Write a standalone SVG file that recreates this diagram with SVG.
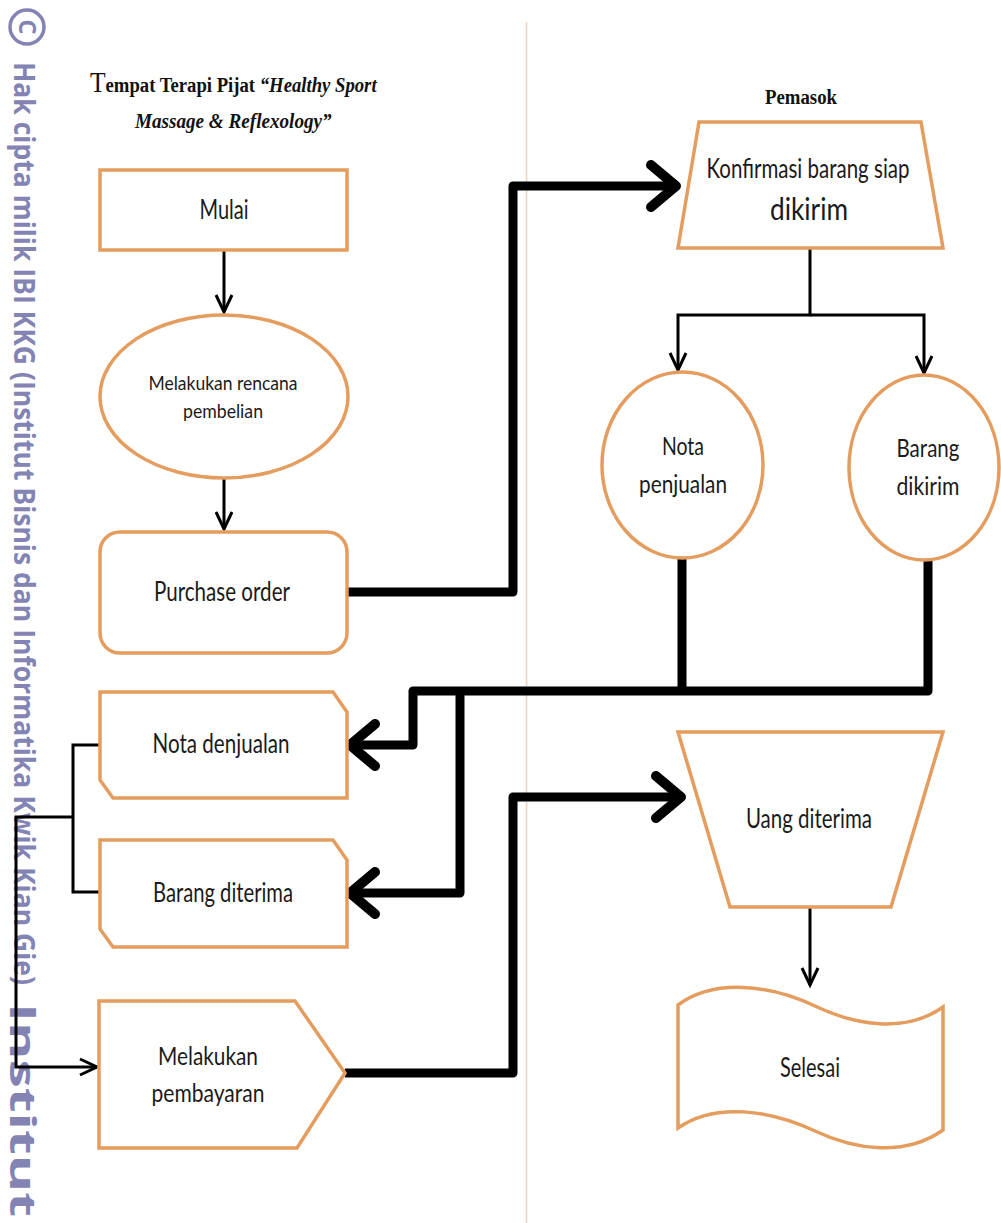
<svg xmlns="http://www.w3.org/2000/svg" width="1001" height="1223" viewBox="0 0 1001 1223">
<style>
.shape{fill:#fff;stroke:#e49d5e;stroke-width:3.5}
.lbl{font-family:Lato,"Open Sans","Liberation Sans",sans-serif;fill:#1a1a1a;text-anchor:middle}
.thin{fill:none;stroke:#000;stroke-width:3;stroke-linejoin:miter}
.thick{fill:none;stroke:#000;stroke-width:9;stroke-linejoin:round}
.wm{font-family:"Open Sans","Noto Sans",sans-serif;fill:#8383b4;font-weight:bold}
.hdr{font-family:"Liberation Serif",serif;fill:#111;font-weight:bold}
</style>
<defs>
<marker id="thinArrow" markerUnits="userSpaceOnUse" markerWidth="22" markerHeight="22" refX="18" refY="10" orient="auto" overflow="visible">
<path d="M1,2 L18,10 L1,18" fill="none" stroke="#000" stroke-width="3" stroke-linejoin="miter"/>
</marker>
<marker id="thickArrow" markerUnits="userSpaceOnUse" markerWidth="60" markerHeight="60" refX="30" refY="25" orient="auto" overflow="visible">
<path d="M5,4 L30,25 L5,46" fill="none" stroke="#000" stroke-width="10" stroke-linecap="round" stroke-linejoin="round"/>
</marker>
</defs>
<rect width="1001" height="1223" fill="#fff"/>

<!-- watermark -->
<g id="watermark">
<circle cx="27" cy="27" r="17" fill="none" stroke="#8383b4" stroke-width="3.5"/>
<text class="wm" font-size="24" text-anchor="middle" transform="translate(19,27) rotate(90)">C</text>
<text class="wm" font-size="28" transform="translate(14,62) rotate(90)" textLength="923" lengthAdjust="spacingAndGlyphs">Hak cipta milik IBI KKG (Institut Bisnis dan Informatika Kwik Kian Gie)</text>
<text class="wm" font-size="36" font-weight="800" transform="translate(10,1003) rotate(90)" textLength="214" lengthAdjust="spacingAndGlyphs">Institut</text>
</g>

<!-- swimlane separator -->
<line x1="526.5" y1="22" x2="526.5" y2="1223" stroke="#efd4bc" stroke-width="1.5"/>

<!-- headers -->
<g id="header-left">
<text class="hdr" transform="translate(90,92) scale(0.85,1)" font-size="22"><tspan font-size="30" font-weight="normal">T</tspan>empat Terapi Pijat <tspan font-style="italic">“Healthy Sport</tspan></text>
<text class="hdr" transform="translate(135,128) scale(0.87,1)" font-size="22" font-style="italic">Massage &amp; Reflexology”</text>
</g>
<g id="header-right">
<text class="hdr" x="801" y="104" font-size="20" text-anchor="middle" textLength="72" lengthAdjust="spacingAndGlyphs">Pemasok</text>
</g>

<!-- connectors -->
<g id="connectors">
<path class="thin" d="M224,250 V312" marker-end="url(#thinArrow)"/>
<path class="thin" d="M224,478 V529" marker-end="url(#thinArrow)"/>
<path class="thick" d="M347,592 H513 V186 H676" marker-end="url(#thickArrow)"/>
<path class="thin" d="M810,248 V315 H678 V370" marker-end="url(#thinArrow)"/>
<path class="thin" d="M810,315 H924 V373" marker-end="url(#thinArrow)"/>
<path class="thick" d="M682,558 V691"/>
<path class="thick" d="M928,560 V691 H413 V745 H350" marker-end="url(#thickArrow)"/>
<path class="thick" d="M460,691 V893 H350" marker-end="url(#thickArrow)"/>
<path class="thin" d="M100,745 H73 V892 H100"/>
<path class="thin" d="M73,817 H16 V1067 H97" marker-end="url(#thinArrow)"/>
<path class="thick" d="M345,1073 H513 V797 H681" marker-end="url(#thickArrow)"/>
<path class="thin" d="M810,907 V985" marker-end="url(#thinArrow)"/>
</g>

<!-- nodes -->
<g id="mulai">
<rect class="shape" x="100" y="170" width="247" height="80"/>
<text class="lbl" x="224" y="219" font-size="26" textLength="49" lengthAdjust="spacingAndGlyphs">Mulai</text>
</g>
<g id="rencana">
<ellipse class="shape" cx="224" cy="396.5" rx="124" ry="81.5"/>
<text class="lbl" x="223" y="390" font-size="20" textLength="149" lengthAdjust="spacingAndGlyphs">Melakukan rencana</text>
<text class="lbl" x="223" y="418" font-size="20" textLength="80" lengthAdjust="spacingAndGlyphs">pembelian</text>
</g>
<g id="purchase-order">
<rect class="shape" x="100" y="532" width="247" height="121" rx="20"/>
<text class="lbl" x="222" y="601" font-size="26" textLength="136" lengthAdjust="spacingAndGlyphs">Purchase order</text>
</g>
<g id="konfirmasi">
<path class="shape" d="M699,122 H921 L943,248 H678 Z"/>
<text class="lbl" x="808" y="178" font-size="26" textLength="203" lengthAdjust="spacingAndGlyphs">Konfirmasi barang siap</text>
<text class="lbl" x="809" y="220" font-size="31" textLength="78" lengthAdjust="spacingAndGlyphs">dikirim</text>
</g>
<g id="nota-penjualan">
<ellipse class="shape" cx="682.5" cy="465" rx="80.5" ry="93"/>
<text class="lbl" x="683" y="455" font-size="25" textLength="42" lengthAdjust="spacingAndGlyphs">Nota</text>
<text class="lbl" x="683" y="493" font-size="25" textLength="88" lengthAdjust="spacingAndGlyphs">penjualan</text>
</g>
<g id="barang-dikirim">
<ellipse class="shape" cx="924" cy="467.5" rx="75" ry="92.5"/>
<text class="lbl" x="928" y="457" font-size="25" textLength="63" lengthAdjust="spacingAndGlyphs">Barang</text>
<text class="lbl" x="928" y="495" font-size="25" textLength="63" lengthAdjust="spacingAndGlyphs">dikirim</text>
</g>
<g id="nota-denjualan">
<path class="shape" d="M100,692 H333 L347,712 V798 H113 L100,780 Z"/>
<text class="lbl" x="221" y="753" font-size="26" textLength="137" lengthAdjust="spacingAndGlyphs">Nota denjualan</text>
</g>
<g id="barang-diterima">
<path class="shape" d="M100,840 H333 L347,860 V947 H113 L100,929 Z"/>
<text class="lbl" x="223" y="902" font-size="26" textLength="140" lengthAdjust="spacingAndGlyphs">Barang diterima</text>
</g>
<g id="pembayaran">
<path class="shape" d="M99,1001 H295 L345,1073 L297,1148 H99 Z"/>
<text class="lbl" x="208" y="1065" font-size="25" textLength="100" lengthAdjust="spacingAndGlyphs">Melakukan</text>
<text class="lbl" x="208" y="1102" font-size="25" textLength="113" lengthAdjust="spacingAndGlyphs">pembayaran</text>
</g>
<g id="uang-diterima">
<path class="shape" d="M678,732 H943 L891,907 H730 Z"/>
<text class="lbl" x="809" y="828" font-size="26" textLength="126" lengthAdjust="spacingAndGlyphs">Uang diterima</text>
</g>
<g id="selesai">
<path class="shape" d="M678,1005 C715,978 770,985 815,1006 C855,1025 905,1034 943,1007 L943,1130 C905,1157 855,1150 815,1131 C770,1110 715,1102 678,1128 Z"/>
<text class="lbl" x="810" y="1077" font-size="26" textLength="60" lengthAdjust="spacingAndGlyphs">Selesai</text>
</g>
</svg>
